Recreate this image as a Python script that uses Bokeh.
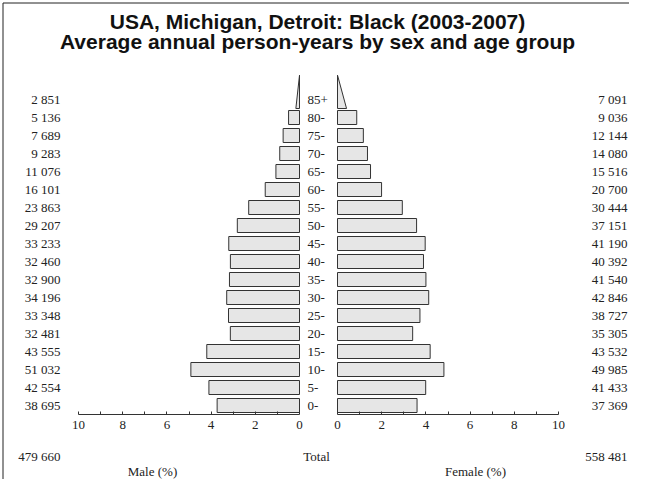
from bokeh.plotting import figure
from bokeh.models import Range1d, LinearAxis, FixedTicker, ColumnDataSource
from bokeh.embed import file_html
from bokeh.resources import INLINE
from bokeh.core.properties import value

# ---------------- data ----------------
ages = ["0-", "5-", "10-", "15-", "20-", "25-", "30-", "35-", "40-", "45-",
        "50-", "55-", "60-", "65-", "70-", "75-", "80-", "85+"]
male = [38695, 42554, 51032, 43555, 32481, 33348, 34196, 32900, 32460, 33233,
        29207, 23863, 16101, 11076, 9283, 7689, 5136, 2851]
female = [37369, 41433, 49985, 43532, 35305, 38727, 42846, 41540, 40392, 41190,
          37151, 30444, 20700, 15516, 14080, 12144, 9036, 7091]
pct_ticks = [0, 2, 4, 6, 8, 10]
pct_minor = [1, 3, 5, 7, 9]
title_lines = ["USA, Michigan, Detroit: Black (2003-2007)",
               "Average annual person-years by sex and age group"]

# ---------------- layout constants (reference pixels) ----------------
W, H = 629, 479
LEFT, TOP = 6, 9      # which reference pixel maps to the canvas origin
SCALE = 22.1          # px per percent
MALE0, FEMALE0 = 305, 343
ROW0, PITCH = 414, 18
AXIS_Y = 423

def fmt(n):
    return "{:,}".format(n).replace(",", " ")

total_m = sum(male)
total_f = sum(female)
grand = total_m + total_f
n = len(ages)
idx = list(range(n))
pm = [100.0 * v / grand for v in male]
pf = [100.0 * v / grand for v in female]

p = figure(width=W, height=H, output_backend="svg", toolbar_location=None,
           x_axis_location=None, y_axis_location=None,
           x_range=Range1d(LEFT, LEFT + W), y_range=Range1d(TOP + H, TOP),
           min_border=0, outline_line_color=None)
p.grid.visible = False
p.background_fill_color = "white"
p.border_fill_color = "white"

p.extra_x_ranges = {
    "male": Range1d(start=(MALE0 - LEFT) / SCALE, end=(MALE0 - LEFT - W) / SCALE),
    "female": Range1d(start=(LEFT - FEMALE0) / SCALE, end=(LEFT + W - FEMALE0) / SCALE),
}
p.extra_y_ranges = {
    "rows": Range1d(start=-(TOP + H - ROW0) / PITCH, end=(ROW0 - TOP) / PITCH),
}

# frame lines (left and top)
p.segment(x0=[8.5, 8.5], y0=[11.5, 11.5], x1=[8.5, LEFT + W], y1=[TOP + H, 11.5],
          line_color="#222222", line_width=1)

bar_fill = "#e6e6e6"
bar_line = "#333333"
BH = 14 / PITCH

# bars (all but open-ended group)
src = ColumnDataSource(dict(y=idx[:-1], m=pm[:-1], f=pf[:-1]))
p.hbar(y="y", left=0, right="m", height=BH, source=src, x_range_name="male",
       y_range_name="rows", fill_color=bar_fill, line_color=bar_line, line_width=1)
p.hbar(y="y", left=0, right="f", height=BH, source=src, x_range_name="female",
       y_range_name="rows", fill_color=bar_fill, line_color=bar_line, line_width=1)

# open-ended group as triangles
top_row = idx[-1]
y_base = top_row - 0.5
y_apex = top_row + 1.35
p.patch(x=[0, pm[-1] * 0.6, 0], y=[y_base, y_base, y_apex], x_range_name="male",
        y_range_name="rows", fill_color=bar_fill, line_color=bar_line, line_width=1)
p.patch(x=[0, pf[-1] * 0.6, 0], y=[y_base, y_base, y_apex], x_range_name="female",
        y_range_name="rows", fill_color=bar_fill, line_color=bar_line, line_width=1)

serif = value("Liberation Serif")
fs = value("13px")
tcol = "#222222"

# count labels
p.text(x=[66] * n, y=idx, text=[fmt(v) for v in male], y_range_name="rows",
       text_align="right", text_baseline="middle", text_font=serif,
       text_font_size=fs, text_color=tcol)
p.text(x=[633] * n, y=idx, text=[fmt(v) for v in female], y_range_name="rows",
       text_align="right", text_baseline="middle", text_font=serif,
       text_font_size=fs, text_color=tcol)
p.text(x=[313] * n, y=idx, text=ages, y_range_name="rows",
       text_align="left", text_baseline="middle", text_font=serif,
       text_font_size=fs, text_color=tcol)

# bottom texts
p.text(x=[66, 633], y=[465, 465], text=[fmt(total_m), fmt(total_f)],
       text_align="right", text_baseline="middle", text_font=serif,
       text_font_size=fs, text_color=tcol)
p.text(x=[322], y=[465], text=["Total"], text_align="center",
       text_baseline="middle", text_font=serif, text_font_size=fs, text_color=tcol)
p.text(x=[158, 481], y=[479.5, 479.5], text=["Male (%)", "Female (%)"],
       text_align="center", text_baseline="middle", text_font=serif,
       text_font_size=fs, text_color=tcol)

# title
p.text(x=[323, 323], y=[30, 50], text=title_lines, text_align="center",
       text_baseline="middle", text_font=value("Liberation Sans"),
       text_font_style="bold", text_font_size=value("21px"), text_color="#111111")

# axes
for name in ("male", "female"):
    ax = LinearAxis(x_range_name=name, bounds=(0, 10), fixed_location=AXIS_Y,
                    ticker=FixedTicker(ticks=pct_ticks, minor_ticks=pct_minor))
    ax.axis_line_color = "#333333"
    ax.major_tick_line_color = "#333333"
    ax.minor_tick_line_color = "#333333"
    ax.major_tick_in = 3
    ax.major_tick_out = 0
    ax.minor_tick_in = 3
    ax.minor_tick_out = 0
    ax.major_label_standoff = 6
    ax.major_label_text_font = "Liberation Serif"
    ax.major_label_text_font_size = "13px"
    ax.major_label_text_color = tcol
    p.add_layout(ax, "below")

open("out.html", "w").write(file_html(p, INLINE))
